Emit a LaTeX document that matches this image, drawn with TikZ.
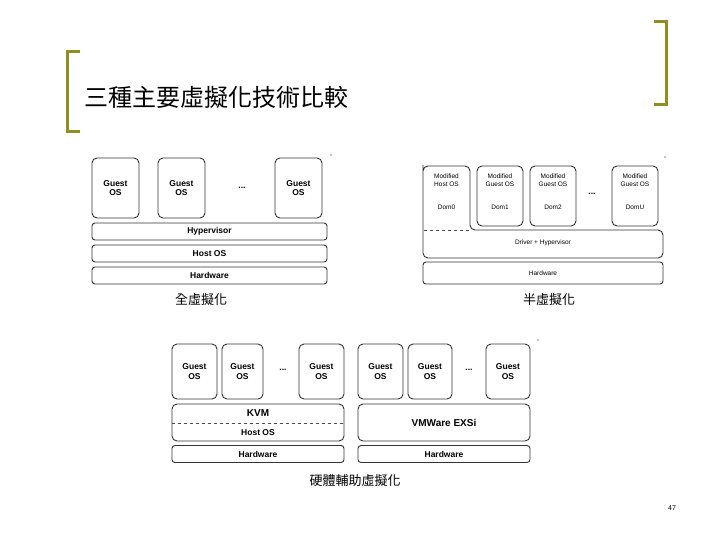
\documentclass[tikz,border=0pt]{standalone}
\usepackage{fontspec}
\setmainfont{Liberation Sans}
\newfontfamily\cjk{Noto Sans CJK TC}
\begin{document}
\begin{tikzpicture}[x=1pt,y=-1pt,
  bx/.style={draw=black!80,line width=0.9pt,rounded corners=5pt},
  t/.style={font=\fontsize{8.5}{9.5}\selectfont\bfseries,align=center,inner sep=0},
  ts/.style={font=\fontsize{6.5}{7.5}\selectfont,align=center,inner sep=0},
  lbl/.style={font=\cjk\fontsize{13}{13}\selectfont,inner sep=0},
  br/.style={draw=olive!70!yellow!80!black,line width=3pt}]
\useasboundingbox (0,0) rectangle (728,546);
\fill[white] (0,0) rectangle (728,546);
% brackets
\draw[br] (80,51) -- (67,51) -- (67,131) -- (80,131);
\draw[br] (654,21) -- (666,21) -- (666,104) -- (654,104);
\node[font=\cjk\fontsize{24}{24}\selectfont,anchor=west,inner sep=0] (title) at (84,97) {三種主要虛擬化技術比較};
% full virtualization
\foreach \a/\b [count=\i] in {92/139,158/205,275/322}
  \node[bx,minimum width=\b-\a,minimum height=60,t] (g\i) at ({(\a+\b)/2},188) {Guest\\OS};
\node[t] (d1) at (242,188) {...};
\node[bx,rounded corners=3pt,minimum width=235,minimum height=17,t] (hv) at (209.5,231.5) {Hypervisor};
\node[bx,rounded corners=3pt,minimum width=235,minimum height=17,t] (ho) at (209.5,253.5) {Host OS};
\node[bx,rounded corners=3pt,minimum width=235,minimum height=17,t] (hw) at (209.5,275.5) {Hardware};
\node[lbl] (c1) at (201,300) {全虛擬化};
% para
\draw[bx] (423,226) -- (423,170) [rounded corners=5pt]-- (423,166) -- (470,166) -- (470,230) -- (663,230) -- (663,258) -- (423,258) -- cycle;
\draw[dashed,black!70,line width=0.8pt] (424,230) -- (470,230);
\node[ts] (p0) at (446.5,180) {Modified\\Host OS};
\node[ts] (p0d) at (446.5,207) {Dom0};
\foreach \a/\b/\n [count=\i] in {477/523/Dom1,530/576/Dom2,612/658/DomU}{
  \node[bx,minimum width=\b-\a,minimum height=60] (p\i) at ({(\a+\b)/2},196) {};
  \node[ts] at ({(\a+\b)/2},180) {Modified\\Guest OS};
  \node[ts] at ({(\a+\b)/2},207) {\n};}
\node[t] (d2) at (592,194) {...};
\node[ts] (dh) at (543,243) {Driver + Hypervisor};
\node[bx,rounded corners=3pt,minimum width=240,minimum height=22,ts] (phw) at (543,273) {Hardware};
\node[lbl] (c2) at (549,300) {半虛擬化};
% hardware-assisted
\foreach \a/\b [count=\i] in {172/217,222/263,299/344,358/403,408/452,486/530}
  \node[bx,minimum width=\b-\a,minimum height=55,t] (h\i) at ({(\a+\b)/2},371.5) {Guest\\OS};
\node[t] (d3) at (283,370) {...};
\node[t] (d4) at (469,370) {...};
\node[bx,minimum width=172,minimum height=37] (kvm) at (258,422.5) {};
\draw[dashed,black!70,line width=0.8pt] (kvm.west|-0,423) -- (kvm.east|-0,423);
\node[t,font=\fontsize{10}{10}\selectfont\bfseries] (kt) at (258,413) {KVM};
\node[t] (kh) at (258,433) {Host OS};
\node[bx,minimum width=172,minimum height=37,t,font=\fontsize{10}{10}\selectfont\bfseries] (vm) at (444,422.5) {VMWare EXSi};
\node[bx,rounded corners=3pt,minimum width=172,minimum height=17,t] (khw) at (258,454) {Hardware};
\node[bx,rounded corners=3pt,minimum width=172,minimum height=17,t] (vhw) at (444,454) {Hardware};
\node[lbl] (c3) at (355,481) {硬體輔助虛擬化};
\node[font=\fontsize{7}{7}\selectfont] (pg) at (672,508) {47};
\fill (331,155) circle (0.7) (665,157) circle (0.7) (538,340) circle (0.7);
\end{tikzpicture}
\end{document}
